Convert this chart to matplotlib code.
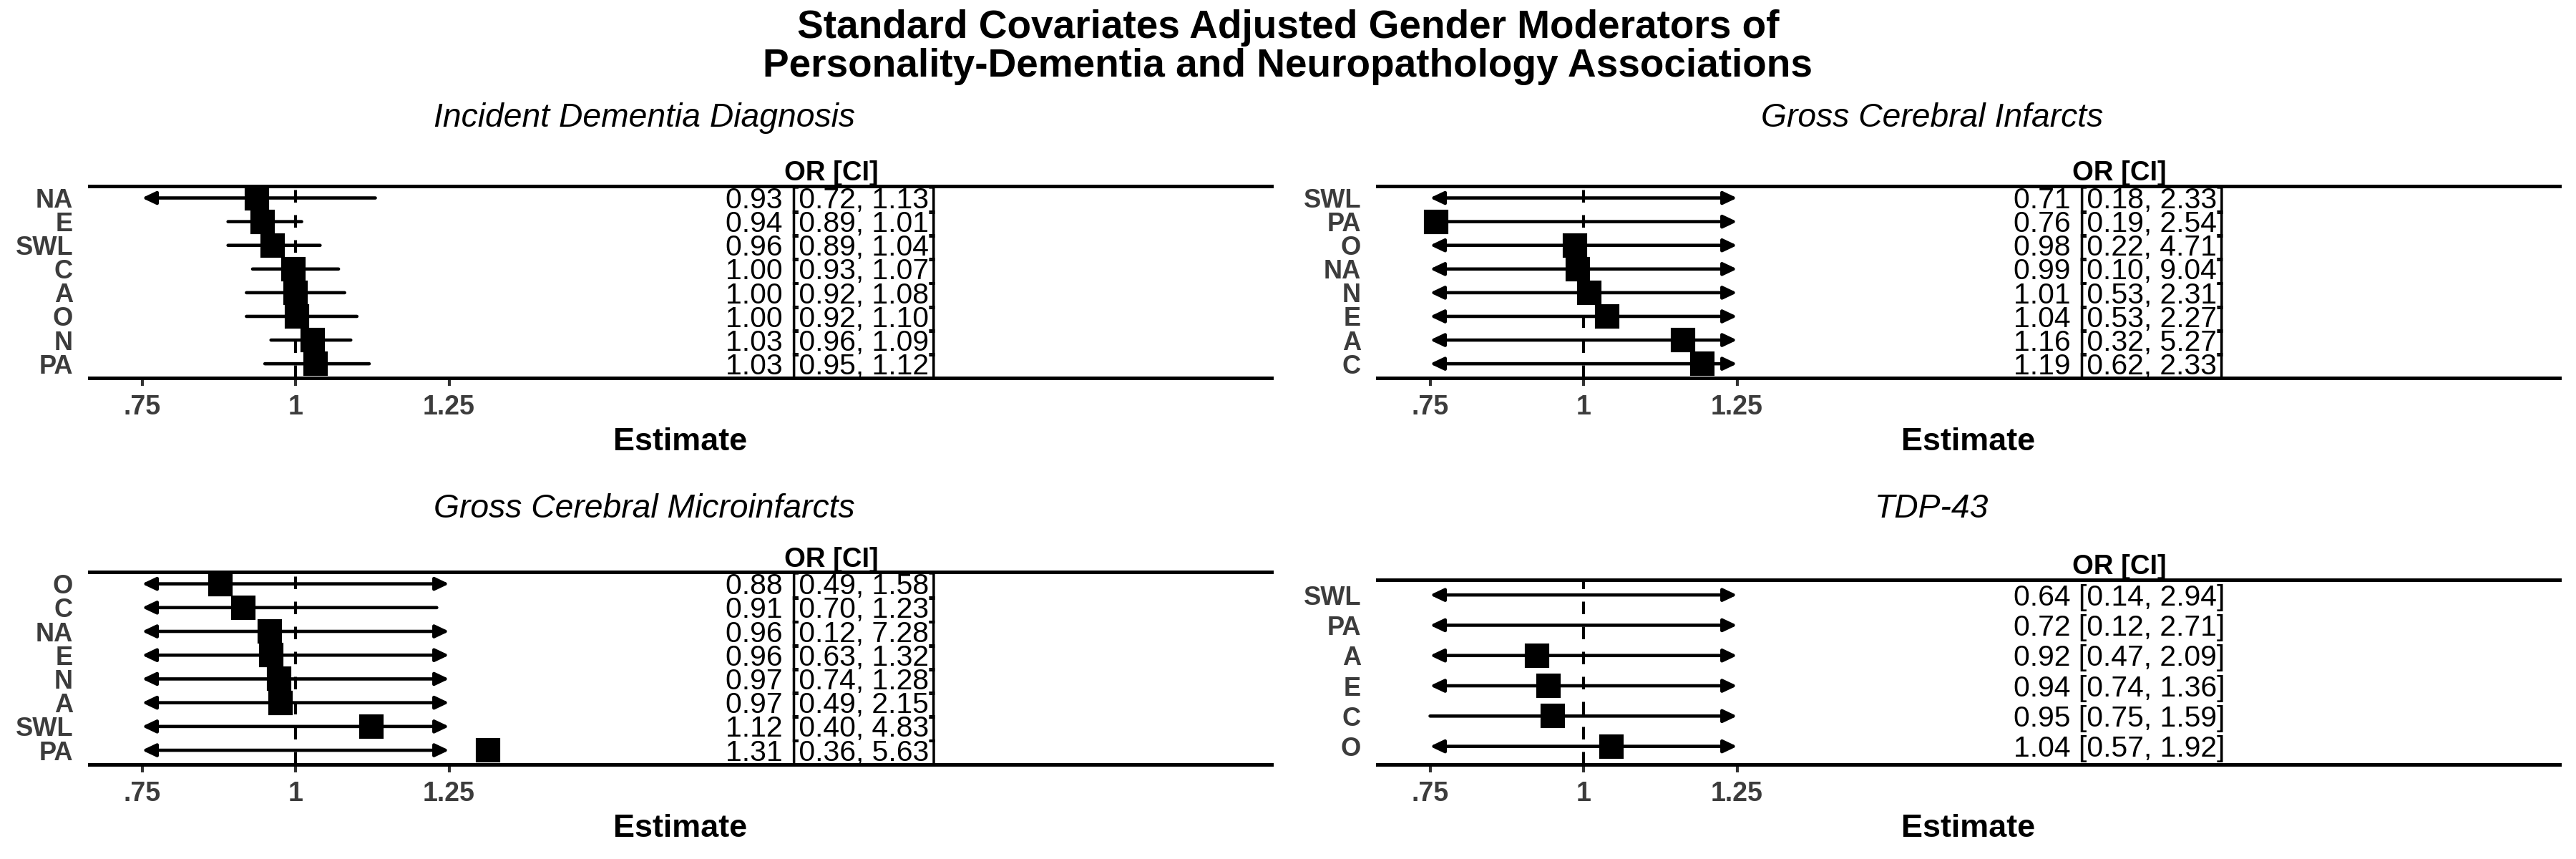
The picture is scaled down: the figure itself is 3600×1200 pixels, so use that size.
import matplotlib
matplotlib.use("Agg")
import matplotlib.pyplot as plt
from matplotlib import transforms

plt.rcParams["font.family"] = ["Liberation Sans", "DejaVu Sans"]

# ---------------- data ----------------
TITLE = ("Standard Covariates Adjusted Gender Moderators of\n"
         "Personality-Dementia and Neuropathology Associations")

panel_titles = ["Incident Dementia Diagnosis", "Gross Cerebral Infarcts",
                "Gross Cerebral Microinfarcts", "TDP-43"]

# Incident Dementia Diagnosis
dem_labels = ["NA", "E", "SWL", "C", "A", "O", "N", "PA"]
dem_est = [0.937, 0.946, 0.963, 0.997, 1.000, 1.002, 1.028, 1.033]
dem_or = [0.93, 0.94, 0.96, 1.00, 1.00, 1.00, 1.03, 1.03]
dem_lo = [0.72, 0.89, 0.89, 0.93, 0.92, 0.92, 0.96, 0.95]
dem_hi = [1.13, 1.01, 1.04, 1.07, 1.08, 1.10, 1.09, 1.12]

# Gross Cerebral Infarcts
inf_labels = ["SWL", "PA", "O", "NA", "N", "E", "A", "C"]
inf_est = [0.71, 0.760, 0.986, 0.991, 1.009, 1.038, 1.162, 1.194]
inf_or = [0.71, 0.76, 0.98, 0.99, 1.01, 1.04, 1.16, 1.19]
inf_lo = [0.18, 0.19, 0.22, 0.10, 0.53, 0.53, 0.32, 0.62]
inf_hi = [2.33, 2.54, 4.71, 9.04, 2.31, 2.27, 5.27, 2.33]

# Gross Cerebral Microinfarcts
mic_labels = ["O", "C", "NA", "E", "N", "A", "SWL", "PA"]
mic_est = [0.878, 0.915, 0.958, 0.960, 0.973, 0.976, 1.123, 1.314]
mic_or = [0.88, 0.91, 0.96, 0.96, 0.97, 0.97, 1.12, 1.31]
mic_lo = [0.49, 0.70, 0.12, 0.63, 0.74, 0.49, 0.40, 0.36]
mic_hi = [1.58, 1.23, 7.28, 1.32, 1.28, 2.15, 4.83, 5.63]

# TDP-43
tdp_labels = ["SWL", "PA", "A", "E", "C", "O"]
tdp_est = [0.64, 0.72, 0.924, 0.943, 0.950, 1.045]
tdp_or = [0.64, 0.72, 0.92, 0.94, 0.95, 1.04]
tdp_lo = [0.14, 0.12, 0.47, 0.74, 0.75, 0.57]
tdp_hi = [2.94, 2.71, 2.09, 1.36, 1.59, 1.92]

xtick_values = [0.75, 1.0, 1.25]
xtick_labels = [".75", "1", "1.25"]
ci_clip = (0.75, 1.25)
ref_value = 1.0
x_label = "Estimate"
col_header = "OR [CI]"

# ---------------- layout ----------------
W, H = 3600, 1200
fig = plt.figure(figsize=(12, 4), dpi=300)
fig.patch.set_facecolor("white")


def rect(left, top, right, bottom):
    return [left / W, 1 - bottom / H, (right - left) / W, (bottom - top) / H]


XLIM = (0.6643, 2.5897)
COL_X = 0.6277
GREY = "#3C3C3C"
ROW_FS = 9.8

panels = [
    dict(r=(125, 260, 1777, 528), cx=900, sub=177, t=panel_titles[0],
         lab=dem_labels, est=dem_est, orv=dem_or, lo=dem_lo, hi=dem_hi),
    dict(r=(1925, 260, 3577, 528), cx=2700, sub=177, t=panel_titles[1],
         lab=inf_labels, est=inf_est, orv=inf_or, lo=inf_lo, hi=inf_hi),
    dict(r=(125, 799, 1777, 1068), cx=900, sub=723, t=panel_titles[2],
         lab=mic_labels, est=mic_est, orv=mic_or, lo=mic_lo, hi=mic_hi),
    dict(r=(1925, 810, 3577, 1068), cx=2700, sub=723, t=panel_titles[3],
         lab=tdp_labels, est=tdp_est, orv=tdp_or, lo=tdp_lo, hi=tdp_hi),
]

for p in panels:
    l, t, r, b = p["r"]
    ax = fig.add_axes(rect(l, t, r, b))
    ax.set_facecolor("none")
    n = len(p["lab"])
    ax.set_xlim(*XLIM)
    ax.set_ylim(n - 0.4, -0.5)

    for side in ("left", "right"):
        ax.spines[side].set_visible(False)
    for side in ("top", "bottom"):
        ax.spines[side].set_linewidth(1.2)
        ax.spines[side].set_color("black")

    # reference line
    ax.axvline(ref_value, color="black", lw=1.0, dashes=(4.2, 4.2), zorder=1)

    blend = transforms.blended_transform_factory(ax.transAxes, ax.transData)
    for k in range(n):
        lo, hi, est = p["lo"][k], p["hi"][k], p["est"][k]
        lo_c = max(lo, ci_clip[0])
        hi_c = min(hi, ci_clip[1])
        la, ra = lo < ci_clip[0], hi > ci_clip[1]
        if la and ra:
            style = "<|-|>"
        elif la:
            style = "<|-"
        elif ra:
            style = "-|>"
        else:
            style = "-"
        if style != "-":
            style += ",head_length=0.38,head_width=0.18"
        ax.annotate("", xy=(hi_c, k), xytext=(lo_c, k),
                    arrowprops=dict(arrowstyle=style, lw=1.1, color="black",
                                    shrinkA=0, shrinkB=0, mutation_scale=10),
                    zorder=2)
        if est >= ci_clip[0]:
            ax.plot([est], [k], marker="s", ms=7, color="black",
                    linestyle="none", zorder=3)
        txt = f"{p['orv'][k]:.2f} [{lo:.2f}, {hi:.2f}]"
        ax.annotate(txt, xy=(COL_X, k), xycoords=blend,
                    xytext=(0, -0.358 * ROW_FS), textcoords="offset points",
                    ha="center", va="baseline", fontsize=ROW_FS, color="black")

    ax.annotate(col_header, xy=(COL_X, 1.0), xycoords="axes fraction",
                xytext=(0, 1.8), textcoords="offset points", ha="center",
                va="baseline", fontsize=9.2, fontweight="bold")

    ax.set_xticks(xtick_values)
    ax.set_xticklabels(xtick_labels, fontweight="bold")
    ax.tick_params(axis="x", length=2.6, width=1.0, color="#333333", pad=3.0,
                   labelsize=9.0, labelcolor=GREY)
    ax.set_yticks(range(n))
    ax.set_yticklabels(p["lab"], fontweight="bold")
    ax.tick_params(axis="y", length=0, pad=5.5, labelsize=8.7, labelcolor=GREY)

    # x label
    fig.text(((l + r) / 2) / W, 1 - (b + 101) / H, x_label, ha="center",
             va="baseline", fontsize=10.8, fontweight="bold", color="black")
    # panel subtitle
    fig.text(p["cx"] / W, 1 - p["sub"] / H, p["t"], ha="center",
             va="baseline", fontsize=11.1, style="italic", color="black")

fig.text(0.5, 1 - 66 / H, TITLE, ha="center", va="center", fontsize=13.2,
         fontweight="bold", linespacing=1.07)

fig.savefig("out.png", dpi=300, facecolor="white")
